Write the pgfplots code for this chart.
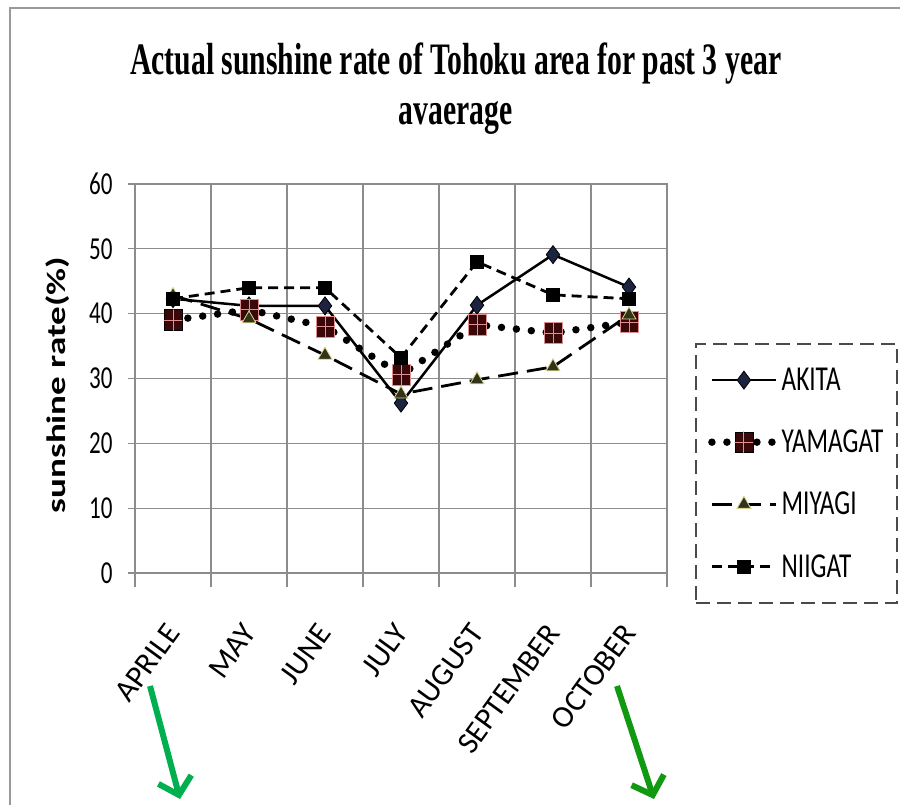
\documentclass[border=0pt]{standalone}
\usepackage{fontspec}
\usepackage{pgfplots}
\pgfplotsset{compat=1.18}
\usetikzlibrary{arrows.meta}
\setmainfont{Carlito}
\newfontfamily\narrow{Carlito}[FakeStretch=0.72]
\newfontfamily\titlefont{Liberation Serif}[FakeStretch=0.66]

\definecolor{gridgray}{HTML}{8C8C8C}
\definecolor{framegray}{HTML}{9A9A9A}
\definecolor{legendgray}{HTML}{4A4A4A}
\definecolor{akfill}{HTML}{1C2340}
\definecolor{yafill}{HTML}{3A0808}
\definecolor{yacross}{HTML}{E09090}
\definecolor{mifill}{HTML}{33331A}
\definecolor{miedge}{HTML}{D6D690}
\definecolor{arrowA}{HTML}{00B050}
\definecolor{arrowB}{HTML}{119911}

% filled square with a light cross through it
\pgfdeclareplotmark{crossbox}{%
  \pgfpathrectangle{\pgfpoint{-\pgfplotmarksize}{-1.15\pgfplotmarksize}}%
                   {\pgfpoint{2\pgfplotmarksize}{2.3\pgfplotmarksize}}%
  \pgfusepathqfillstroke
  \pgfsetstrokecolor{yacross}%
  \pgfsetlinewidth{0.9pt}%
  \pgfpathmoveto{\pgfpoint{-\pgfplotmarksize}{0pt}}%
  \pgfpathlineto{\pgfpoint{\pgfplotmarksize}{0pt}}%
  \pgfpathmoveto{\pgfpoint{0pt}{-1.15\pgfplotmarksize}}%
  \pgfpathlineto{\pgfpoint{0pt}{1.15\pgfplotmarksize}}%
  \pgfusepathqstroke
}

\begin{document}
\begin{tikzpicture}
\useasboundingbox (0,0) rectangle (900pt,805pt);
\fill[white] (0,0) rectangle (900pt,805pt);
% outer chart frame
\draw[framegray, line width=2pt] (10pt,0pt) -- (10pt,797pt) -- (900pt,797pt);

\begin{axis}[
  at={(135pt,232pt)}, anchor=south west,
  scale only axis, width=532pt, height=389pt,
  xmin=-0.5, xmax=6.5, ymin=0, ymax=60,
  xtick={0,...,6},
  xticklabels={APRILE,MAY,JUNE,JULY,AUGUST,SEPTEMBER,OCTOBER},
  minor xtick={-0.5,0.5,...,6.5},
  ytick={0,10,...,60},
  xtick pos=bottom, ytick pos=left,
  xminorgrids=true, ymajorgrids=true,
  grid style={draw=gridgray, line width=1.2pt},
  minor grid style={draw=gridgray, line width=1.2pt},
  axis line style={draw=gridgray, line width=1.5pt},
  tick align=outside,
  major tick length=7pt, minor tick length=14pt,
  major x tick style={draw=none},
  tick style={draw=gridgray, line width=1.2pt},
  /pgf/number format/assume math mode=true,
  y tick label style={font=\narrow\fontsize{32}{32}\selectfont, xshift=-12pt},
  x tick label style={font=\fontsize{31}{31}\selectfont, anchor=east,
                      xshift=2pt, yshift=-45pt, rotate=54},
  ylabel={sunshine rate(\%)},
  ylabel style={at={(axis description cs:-0.145,0.483)}, anchor=center,
                font=\bfseries\fontsize{37}{37}\selectfont, yscale=0.72},
  title={Actual sunshine rate of Tohoku area for past 3 year\\avaerage},
  title style={at={(0.603,1)}, anchor=south, yshift=40pt, align=center,
               font=\titlefont\bfseries\fontsize{45}{50}\selectfont},
  legend style={at={(1.053,0.256)}, anchor=west,
                draw=legendgray, line width=2pt, dash pattern=on 14pt off 7pt,
                font=\narrow\fontsize{35}{35}\selectfont,
                row sep=34pt, inner xsep=12pt, inner ysep=22pt,
                legend cell align=left},
  legend image code/.code={%
    \draw[mark repeat=2, mark phase=2, #1]
      plot coordinates {(0pt,0pt) (32pt,0pt) (64pt,0pt)};},
]

\addplot[black, line width=2.5pt, mark=diamond*, mark size=9pt,
         mark options={solid, fill=akfill, draw=black, line width=0.8pt}]
  coordinates {(0,42.3) (1,41.2) (2,41.2) (3,26.2) (4,41.3) (5,49.1) (6,44.1)};
\addlegendentry{AKITA}

\addplot[black, line width=7.5pt, line cap=round, dash pattern=on 0pt off 15pt,
         mark=crossbox, mark size=9pt,
         mark options={solid, fill=yafill, draw=black, line width=0.6pt}]
  coordinates {(0,39.0) (1,40.6) (2,38.0) (3,30.6) (4,38.3) (5,37.0) (6,38.7)};
\addlegendentry{YAMAGAT}

\addplot[black, line width=2.8pt, dash pattern=on 20pt off 9pt,
         mark=triangle*, mark size=8pt,
         mark options={solid, fill=mifill, draw=miedge, line width=0.8pt}]
  coordinates {(0,42.8) (1,39.2) (2,33.6) (3,27.6) (4,29.8) (5,31.8) (6,39.8)};
\addlegendentry{MIYAGI}

\addplot[black, line width=2.8pt, dash pattern=on 10pt off 6pt,
         mark=square*, mark size=5.5pt,
         mark options={solid, fill=black, draw=black}]
  coordinates {(0,42.3) (1,44.0) (2,44.0) (3,33.2) (4,48.0) (5,42.9) (6,42.3)};
\addlegendentry{NIIGAT}
\end{axis}

% pointer arrows below the first and last month
\draw[arrowA, line width=6pt, -{Straight Barb[length=16pt, width=34pt, line width=6pt]}]
  (150pt,119pt) -- (180pt,6pt);
\draw[arrowB, line width=6pt, -{Straight Barb[length=16pt, width=34pt, line width=6pt]}]
  (617pt,119pt) -- (654pt,6pt);
\end{tikzpicture}
\end{document}
